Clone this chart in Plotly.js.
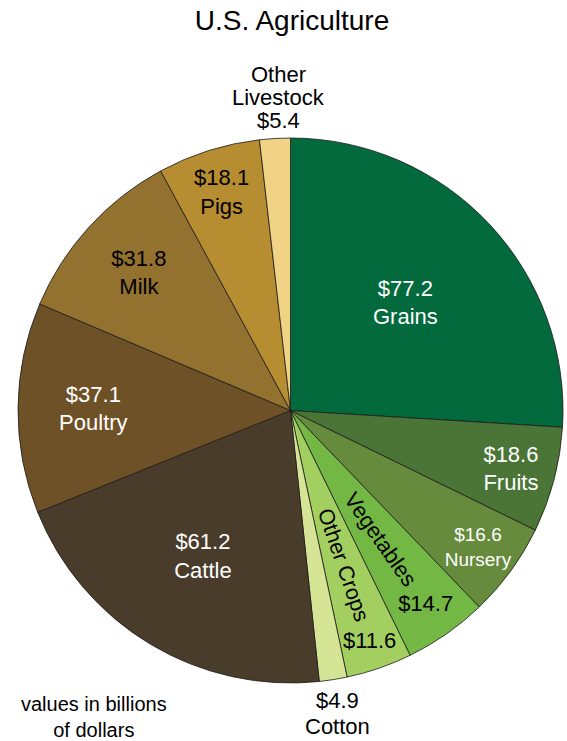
<!DOCTYPE html>
<html>
<head>
<meta charset="utf-8">
<script src="https://cdn.plot.ly/plotly-3.0.1.min.js"></script>
<style>html,body{margin:0;padding:0;background:#fff;}#chart{width:567px;height:741px;}</style>
</head>
<body>
<div id="chart"></div>
<script>
// Data (billions of dollars)
var categories = ['Grains', 'Fruits', 'Nursery', 'Vegetables', 'Other Crops', 'Cotton',
                  'Cattle', 'Poultry', 'Milk', 'Pigs', 'Other Livestock'];
var values = [77.2, 18.6, 16.6, 14.7, 11.6, 4.9, 61.2, 37.1, 31.8, 18.1, 5.4];
var colors = ['#036a3d', '#4a7536', '#668b3d', '#73b844', '#a3cf60', '#d6e595',
              '#4a3c2b', '#6f5127', '#93712f', '#b68d31', '#f1d386'];
var textColors = ['#fff', '#fff', '#fff', '#000', '#000', '#000',
                  '#fff', '#fff', '#000', '#000', '#000'];

// label layout: 'h' horizontal inside, 'o' outside, 'r' radial name + value
var labelMode = ['h', 'h', 'h', 'r', 'r', 'o', 'h', 'h', 'h', 'h', 'o'];

function money(v) { return '$' + v.toFixed(1); }

var W = 567, H = 741;
var fontFam = 'Liberation Sans, Arial, Helvetica, sans-serif';
var dom = {x: [18 / W, 563 / W], y: [1 - 683 / H, 1 - 138 / H]};
var clear = categories.map(function () { return 'rgba(0,0,0,0)'; });

var mainText = [], mainPos = [], radText = [], valText = [];
var outsideLabels = [];
var total = values.reduce(function (a, b) { return a + b; }, 0);
var cum = 0;
for (var i = 0; i < categories.length; i++) {
  var m = labelMode[i];
  var midFrac = (cum + values[i] / 2) / total;
  cum += values[i];
  if (m === 'h') {
    mainText.push(money(values[i]) + '<br>' + categories[i]);
    mainPos.push('inside');
    radText.push(''); valText.push('');
  } else if (m === 'o') {
    mainText.push('');
    mainPos.push('none');
    radText.push(''); valText.push('');
    var lines = categories[i] === 'Other Livestock'
      ? ['Other', 'Livestock', money(values[i])]
      : [money(values[i]), categories[i]];
    outsideLabels.push({frac: midFrac, lines: lines});
  } else {
    mainText.push('');
    mainPos.push('none');
    radText.push(categories[i] + '\u00a0\u00a0\u00a0\u00a0\u00a0\u00a0\u00a0\u00a0');
    valText.push(money(values[i]));
  }
}

// Outside labels placed from the pie geometry (clockwise from 12 o'clock)
var cx = (dom.x[0] + dom.x[1]) / 2 * W;
var cy = (1 - (dom.y[0] + dom.y[1]) / 2) * H;
var R = Math.min((dom.x[1] - dom.x[0]) * W, (dom.y[1] - dom.y[0]) * H) / 2;
var lineGap = 24, edgeGap = 18;
var annotations = [];
outsideLabels.forEach(function (lab) {
  var ang = lab.frac * 2 * Math.PI;
  var ex = cx + R * Math.sin(ang);
  var ey = cy - R * Math.cos(ang);
  var up = Math.cos(ang) > 0;
  var n = lab.lines.length;
  var gap = up ? lineGap - 1 : lineGap + 2;
  lab.lines.forEach(function (ln, k) {
    var ypx = up ? ey - edgeGap - (n - 1 - k) * gap : ey + edgeGap + 3 + k * gap;
    annotations.push({
      text: ln, xref: 'paper', yref: 'paper', x: (ex + 4) / W, y: 1 - ypx / H,
      xanchor: 'center', yanchor: 'middle', showarrow: false,
      font: {family: fontFam, size: 22, color: '#000'}
    });
  });
});
annotations.push({
  text: 'values in billions<br>of dollars', xref: 'paper', yref: 'paper',
  x: 94 / W, y: 1 - 717 / H, xanchor: 'center', yanchor: 'middle',
  showarrow: false, font: {family: fontFam, size: 20, color: '#000'}
});

var main = {
  type: 'pie', labels: categories, values: values, sort: false,
  direction: 'clockwise', rotation: 0, domain: dom,
  marker: {colors: colors, line: {color: '#1a1a1a', width: 0.8}},
  text: mainText, texttemplate: '%{text}', textposition: mainPos,
  insidetextorientation: 'horizontal',
  textfont: {family: fontFam, size: 22, color: textColors},
  hoverinfo: 'label+value', showlegend: false
};
var radial = {
  type: 'pie', labels: categories, values: values, sort: false,
  direction: 'clockwise', rotation: 0, domain: dom,
  marker: {colors: clear, line: {width: 0}},
  text: radText, texttemplate: '%{text}', textposition: 'inside',
  insidetextorientation: 'radial',
  textfont: {family: fontFam, size: 22, color: '#000'},
  hoverinfo: 'skip', showlegend: false
};
var vals = {
  type: 'pie', labels: categories, values: values, sort: false,
  direction: 'clockwise', rotation: 0, domain: dom,
  marker: {colors: clear, line: {width: 0}},
  text: valText, texttemplate: '%{text}', textposition: 'inside',
  insidetextorientation: 'horizontal',
  textfont: {family: fontFam, size: 22, color: '#000'},
  hoverinfo: 'skip', showlegend: false
};

var layout = {
  width: W, height: H,
  margin: {l: 0, r: 0, t: 0, b: 0},
  paper_bgcolor: '#fff',
  showlegend: false,
  title: {text: 'U.S. Agriculture', x: 292 / W, xref: 'paper', xanchor: 'center',
          y: 1 - 20 / H, yref: 'container', yanchor: 'middle',
          font: {family: fontFam, size: 28, color: '#000'}},
  annotations: annotations
};

Plotly.newPlot('chart', [main, radial, vals], layout, {displayModeBar: false, staticPlot: true});
</script>
</body>
</html>
